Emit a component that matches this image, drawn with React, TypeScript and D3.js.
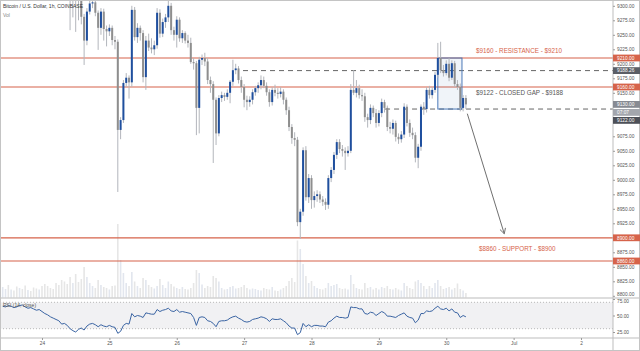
import React, { useEffect, useRef } from "react";
import * as d3 from "d3";

// hourly bars, first one is 23 Jun 10:00 UTC
const firstBar = Date.UTC(2020, 5, 23, 10);
const HOUR = 3600 * 1000;

// [open, high, low, close]
const candles: [number, number, number, number][] = [
  [9628, 9645, 9610, 9634], [9634, 9650, 9620, 9641], [9641, 9658, 9630, 9637], [9637, 9652, 9622, 9646], [9646, 9662, 9635, 9640],
  [9640, 9648, 9618, 9626], [9626, 9640, 9612, 9633], [9633, 9650, 9605, 9612], [9612, 9620, 9588, 9596], [9596, 9610, 9580, 9604],
  [9604, 9615, 9575, 9582], [9582, 9590, 9552, 9560], [9560, 9572, 9540, 9548], [9548, 9566, 9535, 9555], [9555, 9560, 9510, 9518],
  [9518, 9530, 9488, 9495], [9495, 9508, 9470, 9480], [9480, 9490, 9445, 9452], [9452, 9466, 9430, 9440], [9440, 9448, 9405, 9412],
  [9412, 9425, 9380, 9390], [9390, 9398, 9352, 9360], [9360, 9372, 9335, 9348], [9348, 9356, 9322, 9336], [9336, 9345, 9258, 9322],
  [9322, 9338, 9280, 9330], [9330, 9334, 9255, 9318], [9318, 9325, 9275, 9312], [9312, 9318, 9268, 9281], [9281, 9286, 9198, 9240],
  [9240, 9296, 9232, 9290], [9290, 9310, 9285, 9304], [9304, 9314, 9296, 9306], [9306, 9310, 9282, 9288], [9288, 9292, 9224, 9262],
  [9262, 9296, 9250, 9290], [9290, 9295, 9240, 9260], [9260, 9266, 9230, 9256], [9256, 9268, 9248, 9262], [9262, 9266, 9232, 9241],
  [9241, 9248, 9225, 9238], [9238, 9242, 8979, 9086], [9086, 9108, 9070, 9103], [9103, 9172, 9098, 9167], [9167, 9184, 9160, 9176],
  [9176, 9180, 9140, 9168], [9168, 9300, 9160, 9293], [9293, 9298, 9240, 9246], [9246, 9270, 9236, 9262], [9262, 9266, 9240, 9253],
  [9253, 9258, 9168, 9177], [9177, 9248, 9155, 9240], [9240, 9252, 9222, 9228], [9228, 9244, 9218, 9225], [9225, 9240, 9215, 9232],
  [9232, 9296, 9226, 9288], [9288, 9294, 9245, 9252], [9252, 9278, 9246, 9272], [9272, 9286, 9262, 9280], [9280, 9312, 9272, 9300],
  [9300, 9305, 9250, 9258], [9258, 9264, 9240, 9250], [9250, 9282, 9228, 9276], [9276, 9280, 9238, 9244], [9244, 9258, 9236, 9253],
  [9253, 9256, 9235, 9240], [9240, 9250, 9228, 9236], [9236, 9245, 9200, 9203], [9203, 9210, 9190, 9201], [9201, 9205, 9077, 9124],
  [9124, 9212, 9080, 9207], [9207, 9216, 9198, 9210], [9210, 9219, 9196, 9204], [9204, 9210, 9165, 9172], [9172, 9178, 9150, 9165],
  [9165, 9170, 9029, 9138], [9138, 9142, 9060, 9080], [9080, 9146, 9075, 9141], [9141, 9152, 9134, 9146], [9146, 9150, 9136, 9143],
  [9143, 9156, 9138, 9150], [9150, 9172, 9132, 9169], [9169, 9207, 9162, 9189], [9189, 9200, 9182, 9192], [9192, 9196, 9166, 9172],
  [9172, 9178, 9150, 9160], [9160, 9165, 9125, 9138], [9138, 9145, 9120, 9134], [9134, 9144, 9126, 9138], [9138, 9156, 9130, 9151],
  [9151, 9162, 9145, 9158], [9158, 9168, 9150, 9163], [9163, 9180, 9156, 9172], [9172, 9178, 9158, 9162], [9162, 9168, 9145, 9151],
  [9151, 9156, 9126, 9134], [9134, 9160, 9128, 9155], [9155, 9164, 9144, 9150], [9150, 9158, 9140, 9148], [9148, 9160, 9142, 9152],
  [9152, 9156, 9130, 9138], [9138, 9142, 9112, 9120], [9120, 9126, 9084, 9091], [9091, 9096, 9062, 9072], [9072, 9082, 9058, 9069],
  [9069, 9074, 8920, 8927], [8927, 8950, 8898, 8945], [8945, 9056, 8938, 9051], [9051, 9058, 8964, 8970], [8970, 9010, 8960, 9003],
  [9003, 9008, 8950, 8965], [8965, 8980, 8952, 8972], [8972, 8982, 8962, 8975], [8975, 8980, 8960, 8966], [8966, 8972, 8955, 8962],
  [8962, 8968, 8948, 8957], [8957, 9008, 8950, 9003], [9003, 9022, 8996, 9017], [9017, 9048, 9010, 9043], [9043, 9070, 9036, 9065],
  [9065, 9070, 9046, 9053], [9053, 9060, 9040, 9050], [9050, 9056, 9017, 9046], [9046, 9058, 9040, 9050], [9050, 9165, 9046, 9155],
  [9155, 9189, 9146, 9150], [9150, 9172, 9142, 9158], [9158, 9164, 9140, 9146], [9146, 9156, 9136, 9144], [9144, 9150, 9100, 9108],
  [9108, 9114, 9090, 9103], [9103, 9130, 9096, 9124], [9124, 9128, 9108, 9115], [9115, 9122, 9090, 9098], [9098, 9120, 9092, 9115],
  [9115, 9140, 9108, 9134], [9134, 9138, 9116, 9124], [9124, 9128, 9084, 9091], [9091, 9100, 9080, 9088], [9088, 9104, 9078, 9098],
  [9098, 9102, 9066, 9074], [9074, 9080, 9062, 9070], [9070, 9084, 9064, 9078], [9078, 9132, 9072, 9126], [9126, 9130, 9092, 9098],
  [9098, 9104, 9074, 9081], [9081, 9090, 9070, 9077], [9077, 9082, 9030, 9038], [9038, 9062, 9020, 9057], [9057, 9130, 9050, 9126],
  [9126, 9134, 9112, 9122], [9122, 9160, 9116, 9155], [9155, 9162, 9140, 9146], [9146, 9160, 9140, 9155], [9155, 9186, 9150, 9181],
  [9181, 9236, 9176, 9210], [9210, 9238, 9184, 9189], [9189, 9198, 9178, 9184], [9184, 9206, 9180, 9200], [9200, 9210, 9170, 9176],
  [9176, 9206, 9172, 9201], [9201, 9205, 9160, 9165], [9165, 9172, 9155, 9160], [9160, 9166, 9118, 9124], [9124, 9146, 9118, 9141],
  [9141, 9146, 9122, 9130],
];

const volumes = [
  220, 180, 260, 170, 150, 230, 200, 180, 250, 160,
  140, 210, 190, 170, 240, 280, 240, 200, 180, 300,
  260, 360, 330, 280, 420, 300, 480, 320, 380, 620,
  420, 300, 240, 200, 360, 260, 220, 200, 170, 240,
  250, 1480, 760, 500, 300, 240, 520, 330, 240, 200,
  400, 360, 260, 220, 190, 240, 380, 260, 200, 330,
  280, 230, 200, 180, 220, 180, 170, 200, 300, 560,
  500, 270, 200, 240, 220, 440, 400, 330, 200, 170,
  180, 220, 240, 190, 200, 220, 260, 200, 170, 190,
  180, 160, 150, 200, 180, 170, 220, 150, 140, 170,
  200, 240, 340, 400, 320, 1150, 980, 680, 440, 300,
  340, 240, 200, 180, 170, 200, 300, 240, 260, 280,
  200, 180, 190, 170, 460, 280, 200, 180, 170, 300,
  200, 220, 170, 200, 170, 220, 200, 240, 180, 170,
  200, 170, 150, 300, 240, 200, 180, 330, 360, 300,
  240, 180, 240, 200, 300, 360, 240, 180, 200, 220,
  170, 200, 290, 180, 150, 100,
];

const rsiValues = [
  64, 63, 65, 64, 62, 63, 65, 66, 63, 61,
  62, 60, 58, 59, 56, 53, 51, 48, 46, 44,
  42, 37, 38, 35, 30, 27, 25, 29, 31, 28,
  34, 37, 38, 36, 33, 36, 34, 33, 35, 33,
  32, 23, 26, 35, 38, 37, 53, 48, 50, 49,
  47, 54, 53, 52, 52, 59, 56, 58, 59, 61,
  57, 56, 59, 55, 56, 55, 54, 53, 47, 35,
  47, 48, 47, 42, 41, 38, 33, 41, 42, 42,
  43, 46, 48, 49, 46, 44, 41, 40, 41, 44,
  45, 46, 48, 47, 45, 41, 45, 44, 44, 45,
  42, 39, 34, 31, 31, 21, 24, 38, 33, 36,
  33, 35, 35, 34, 34, 33, 40, 42, 46, 49,
  47, 47, 46, 47, 63, 62, 62, 60, 60, 53,
  52, 55, 54, 50, 53, 56, 54, 49, 49, 48,
  47, 50, 52, 54, 49, 47, 46, 39, 43, 53,
  53, 57, 56, 57, 61, 64, 60, 59, 61, 57,
  60, 55, 54, 47, 50, 48,
];

// 9125 and 9100 sit under the price tags, as in the original
const priceTicks = [9300, 9275, 9250, 9225, 9200, 9175, 9150, 9075, 9050, 9025, 9000,
  8975, 8950, 8925, 8900, 8875, 8850, 8825, 8800];
const rsiTicks = [75, 50, 25];
const dayTicks = [Date.UTC(2020, 5, 24), Date.UTC(2020, 5, 25), Date.UTC(2020, 5, 26), Date.UTC(2020, 5, 27),
  Date.UTC(2020, 5, 28), Date.UTC(2020, 5, 29), Date.UTC(2020, 5, 30), Date.UTC(2020, 6, 1), Date.UTC(2020, 6, 2)];
const dayLabels = ["24", "25", "26", "27", "28", "29", "30", "Jul", "2"];

const resistance = [9160, 9210];
const support = [8860, 8900];
const closedGap = [9122, 9188.26];
const lastPrice = 9130;
const countdown = "07:07";

const FONT = "'Liberation Sans', Arial, sans-serif";
const RED = "#d6634a";

export default function App() {
  const priceAxisRef = useRef<SVGGElement>(null);
  const rsiAxisRef = useRef<SVGGElement>(null);
  const timeAxisRef = useRef<SVGGElement>(null);

  const width = 640;
  const height = 351;
  const plotRight = 613;
  const paneBottom = 298;
  const rsiBottom = 338;

  const x = d3.scaleUtc()
    .domain([new Date(dayTicks[0]), new Date(dayTicks[dayTicks.length - 1])])
    .range([42, 581]);
  const y = d3.scaleLinear().domain([8800, 9300]).range([295.8, 5.8]);
  const yRsi = d3.scaleLinear().domain([25, 75]).range([332, 299]);
  const yVol = d3.scaleLinear().domain([0, 1600]).range([paneBottom, paneBottom - 80]);
  const barTime = (i: number) => new Date(firstBar + i * HOUR);
  const fmt = d3.format(".2f");

  const rsiLine = d3.line<number>()
    .x((_, i) => x(barTime(i)))
    .y((d) => yRsi(d));

  useEffect(() => {
    document.body.style.margin = "0";

    const styleAxis = (g: any) => {
      g.select(".domain").remove();
      g.selectAll("line").attr("stroke", "#9a9a9a");
      g.selectAll("text")
        .attr("fill", "#555")
        .attr("font-size", 4.8)
        .attr("font-family", FONT);
    };

    const pa = d3.select(priceAxisRef.current)
      .call(d3.axisRight(y).tickValues(priceTicks).tickSize(2).tickPadding(2).tickFormat((d: any) => fmt(d)))
      .call(styleAxis);
    // 8800.00 and the RSI 75.00 share the pane border
    pa.selectAll("text").filter((d: any) => d === 8800).attr("dy", "-0.1em");

    const ra = d3.select(rsiAxisRef.current)
      .call(d3.axisRight(yRsi).tickValues(rsiTicks).tickSize(2).tickPadding(2).tickFormat((d: any) => fmt(d)))
      .call(styleAxis);
    ra.selectAll("text").filter((d: any) => d === 75).attr("dy", "0.75em");

    d3.select(timeAxisRef.current)
      .call(d3.axisBottom(x).tickValues(dayTicks.map((d) => new Date(d))).tickSize(2).tickPadding(2)
        .tickFormat((_: any, i: number) => dayLabels[i]))
      .call(styleAxis);
  }, []);

  const levelTags = [
    { value: resistance[1], fill: RED },
    { value: closedGap[1], fill: "#5b5e66" },
    { value: resistance[0], fill: RED },
    { value: support[1], fill: RED },
    { value: support[0], fill: RED },
  ];

  const tag = (cy: number, text: string, fill: string, key: string) => (
    <g key={key}>
      <rect x={plotRight} y={cy - 3.4} width={width - plotRight} height={6.8} fill={fill} />
      <text x={plotRight + 4} y={cy + 1.7} fill="#fff" fontSize={4.8} fontFamily={FONT}>{text}</text>
    </g>
  );

  const arrowStart: [number, number] = [x(new Date(Date.UTC(2020, 5, 30, 7, 30))), y(9114)];
  const arrowEnd: [number, number] = [x(new Date(Date.UTC(2020, 5, 30, 20, 40))), y(8907)];
  const ang = Math.atan2(arrowEnd[1] - arrowStart[1], arrowEnd[0] - arrowStart[0]);
  const head = (a: number) => [arrowEnd[0] - 6 * Math.cos(ang + a), arrowEnd[1] - 6 * Math.sin(ang + a)];

  const gapX0 = x(new Date(Date.UTC(2020, 5, 29, 21)));
  const gapX1 = x(new Date(Date.UTC(2020, 5, 30, 5, 36)));
  const labelX = x(new Date(Date.UTC(2020, 5, 30, 10, 36)));

  return (
    <div style={{ position: "absolute", left: 0, top: 0 }}>
      <svg width={width} height={height} style={{ display: "block", background: "#fff" }}>
        <defs>
          <clipPath id="pane">
            <rect x={0} y={0} width={plotRight} height={paneBottom} />
          </clipPath>
        </defs>

        <g clipPath="url(#pane)">
          {/* volume */}
          {volumes.map((v, i) => {
            const c = candles[i];
            return (
              <rect key={"v" + i} x={x(barTime(i)) - 0.8} width={1.6} y={yVol(v)} height={paneBottom - yVol(v)}
                fill={c && c[3] >= c[0] ? "#e2e6ee" : "#e6e6e6"} />
            );
          })}

          {/* levels */}
          {[...resistance, ...support].map((p) => (
            <line key={"l" + p} x1={0} x2={plotRight} y1={y(p)} y2={y(p)} stroke={RED} strokeWidth={1.2} />
          ))}
          <line x1={x(new Date(Date.UTC(2020, 5, 26, 23, 36)))} x2={plotRight} y1={y(closedGap[1])} y2={y(closedGap[1])}
            stroke="#666" strokeDasharray="5 4" />
          <line x1={x(new Date(Date.UTC(2020, 5, 29, 2, 12)))} x2={plotRight} y1={y(closedGap[0])} y2={y(closedGap[0])}
            stroke="#666" strokeDasharray="5 4" />

          <rect x={gapX0} y={y(resistance[1])} width={gapX1 - gapX0} height={y(closedGap[0]) - y(resistance[1])}
            fill="rgba(60,110,180,0.08)" stroke="#4a78b8" strokeWidth={1} />

          {/* candles */}
          {candles.map(([o, h, l, c], i) => {
            const cx = x(barTime(i));
            const up = c >= o;
            const top = y(Math.max(o, c));
            const bh = Math.max(1, y(Math.min(o, c)) - top);
            return (
              <g key={"c" + i}>
                <line x1={cx} x2={cx} y1={y(h)} y2={y(l)} stroke="#b3b6bc" strokeWidth={1} />
                <rect x={cx - 1} y={top} width={2} height={bh} fill={up ? "#1f4f9e" : "#8e8e8e"} />
              </g>
            );
          })}

          {/* arrow */}
          <line x1={arrowStart[0]} y1={arrowStart[1]} x2={arrowEnd[0]} y2={arrowEnd[1]} stroke="#707070" strokeWidth={1} />
          <polyline points={[head(0.5), arrowEnd, head(-0.5)].map((p) => p.join(",")).join(" ")}
            fill="none" stroke="#707070" strokeWidth={1} />

          <text x={labelX} y={y(9222) + 2.2} fill={RED} fontSize={6.3} fontFamily={FONT}>$9160 - RESISTANCE - $9210</text>
          <text x={labelX} y={y(9150) + 2.2} fill="#555" fontSize={6.3} fontFamily={FONT}>$9122 - CLOSED GAP - $9188</text>
          <text x={x(new Date(Date.UTC(2020, 5, 30, 11, 40)))} y={y(8881) + 2.2} fill={RED} fontSize={6.3} fontFamily={FONT}>
            $8860 - SUPPORT - $8900
          </text>

          <text x={3} y={8} fill="#333" fontSize={5} fontFamily={FONT}>Bitcoin / U.S. Dollar, 1h, COINBASE</text>
          <text x={3} y={17} fill="#888" fontSize={5} fontFamily={FONT}>Vol</text>
        </g>

        {/* RSI pane */}
        <rect x={0} y={yRsi(70)} width={plotRight} height={yRsi(30) - yRsi(70)} fill="#f1f1f3" />
        <line x1={0} x2={plotRight} y1={yRsi(70)} y2={yRsi(70)} stroke="#b8b8b8" strokeDasharray="1 2" />
        <line x1={0} x2={plotRight} y1={yRsi(30)} y2={yRsi(30)} stroke="#b8b8b8" strokeDasharray="1 2" />
        <path d={rsiLine(rsiValues) || ""} fill="none" stroke="#3a64a3" strokeWidth={1} />
        <text x={3} y={307} fill="#555" fontSize={5} fontFamily={FONT}>RSI (14, close)</text>

        {/* frame */}
        <line x1={0} x2={width} y1={paneBottom} y2={paneBottom} stroke="#d2d2d2" strokeWidth={1.5} />
        <line x1={0} x2={width} y1={rsiBottom} y2={rsiBottom} stroke="#bdbdbd" />
        <line x1={plotRight} x2={plotRight} y1={0} y2={height} stroke="#bdbdbd" />
        <rect x={0.5} y={0.5} width={width - 1} height={height - 1} fill="none" stroke="#c4c4c4" />

        <g ref={priceAxisRef} transform={`translate(${plotRight},0)`} />
        <g ref={rsiAxisRef} transform={`translate(${plotRight},0)`} />
        <g ref={timeAxisRef} transform={`translate(0,${rsiBottom})`} />

        {levelTags.map((t) => tag(y(t.value), fmt(t.value), t.fill, "t" + t.value))}
        {tag(y(lastPrice), fmt(lastPrice), "#878a92", "last")}
        {tag(y(lastPrice) + 8, countdown, "#a3a6ad", "cd")}
        {tag(y(lastPrice) + 16, fmt(closedGap[0]), "#4d5058", "gap")}
      </svg>
    </div>
  );
}
